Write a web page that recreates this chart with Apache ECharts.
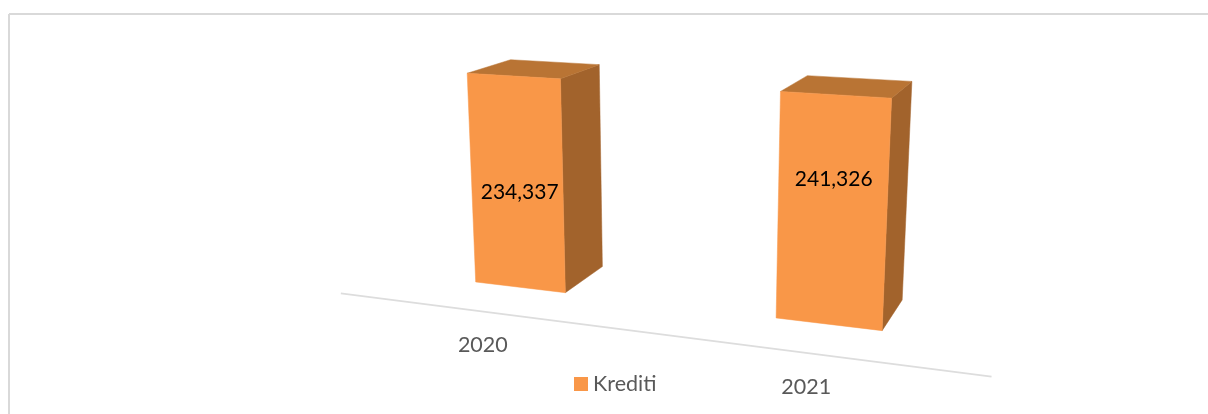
<!DOCTYPE html>
<html>
<head>
<meta charset="utf-8">
<style>html,body{margin:0;padding:0;background:#fff}#c{width:1208px;height:414px}</style>
<script src="https://cdn.jsdelivr.net/npm/echarts@6/dist/echarts.min.js"></script>
</head>
<body>
<div id="c"></div>
<script>
const categories = ['2020', '2021'];
const seriesName = 'Krediti';
const values = [234337, 241326];
const valueLabels = ['234,337', '241,326'];

// Layout and style constants
const FONT = 'Lato, "Open Sans", sans-serif';
const FRONT = '#F99748', TOP = '#B97434', SIDE = '#A2632C';
const GRID = { left: 100, top: 20, width: 553.2, height: 223.9 };
const BAR_RATIO = 0.316;
const DEPTH = 0.0605, AXIS_DEPTH = -0.0512;
const LABEL_SHIFT = [[3, 8], [2, -33]];
const TICK_SHIFT = [0, 34];

// Perspective camera: (u along floor, h up, e depth) -> screen
function project(u, h, e) {
  const D = 1 - u / 3482 - h / 5018 + e;
  return [(476 + 0.8633 * u - 0.1355 * h + 1199 * e) / D,
          (282 + 0.03877 * u - 1.0562 * h - 155 * e) / D];
}
const U0 = GRID.left + 94.9;
const toWorld = (pt, floorY) => [pt[0] - U0, floorY - pt[1]];

function renderBar(params, api) {
  const i = api.value(0);
  const band = params.coordSys.width / categories.length;
  const half = band * BAR_RATIO / 2;
  const floorY = params.coordSys.y + params.coordSys.height;
  const [uc, h] = toWorld(api.coord([i, api.value(1)]), floorY);
  const u0 = uc - half, u1 = uc + half;
  const poly = (pts, fill) => ({
    type: 'polygon', silent: true,
    shape: { points: pts }, style: { fill: fill, stroke: fill, lineWidth: 0.5 }
  });
  const tick = project(uc, 0, AXIS_DEPTH);
  const mid = project(uc, h / 2, 0);
  const text = (t, x, y, color, size) => ({
    type: 'text', silent: true,
    style: { text: t, x: x, y: y, align: 'center', verticalAlign: 'middle',
             font: size + 'px ' + FONT, fill: color }
  });
  return {
    type: 'group',
    children: [
      poly([project(u1, 0, 0), project(u1, 0, DEPTH), project(u1, h, DEPTH), project(u1, h, 0)], SIDE),
      poly([project(u0, h, 0), project(u1, h, 0), project(u1, h, DEPTH), project(u0, h, DEPTH)], TOP),
      poly([project(u0, 0, 0), project(u1, 0, 0), project(u1, h, 0), project(u0, h, 0)], FRONT),
      text(valueLabels[i], mid[0] + LABEL_SHIFT[i][0], mid[1] + LABEL_SHIFT[i][1], '#000000', 21),
      text(categories[i], tick[0] + TICK_SHIFT[0], tick[1] + TICK_SHIFT[1], '#595959', 21.5)
    ]
  };
}

function renderAxisLine(params) {
  const c = params.coordSys;
  const a = project(c.x - U0, 0, AXIS_DEPTH);
  const b = project(c.x + c.width - U0, 0, AXIS_DEPTH);
  return {
    type: 'line', silent: true,
    shape: { x1: a[0], y1: a[1], x2: b[0], y2: b[1] },
    style: { stroke: '#DDDDDD', lineWidth: 1.8 }
  };
}

const chart = echarts.init(document.getElementById('c'), null, { renderer: 'canvas' });
chart.setOption({
  backgroundColor: '#fff',
  animation: false,
  grid: GRID,
  xAxis: { type: 'category', data: categories, show: false },
  yAxis: { type: 'log', min: 1, max: 1000000, show: false },
  legend: {
    data: [seriesName], left: 574, top: 373, padding: 0,
    icon: 'rect', itemWidth: 14, itemHeight: 14, itemGap: 5,
    textStyle: { fontFamily: FONT, fontSize: 21.5, color: '#595959', padding: [1, 0, 0, 0] }
  },
  graphic: [
    { type: 'line', silent: true, shape: { x1: 9, y1: 14, x2: 1208, y2: 14 }, style: { stroke: '#D9D9D9', lineWidth: 2 } },
    { type: 'line', silent: true, shape: { x1: 9, y1: 14, x2: 9, y2: 414 }, style: { stroke: '#D9D9D9', lineWidth: 2 } }
  ],
  series: [
    { type: 'custom', name: 'axis', silent: true, z: 1, renderItem: renderAxisLine, data: [[0, 1]] },
    { type: 'custom', name: seriesName, silent: true, z: 2, renderItem: renderBar,
      itemStyle: { color: FRONT }, encode: { x: 0, y: 1 },
      data: values.map((v, i) => [i, v]) }
  ]
});
</script>
</body>
</html>
